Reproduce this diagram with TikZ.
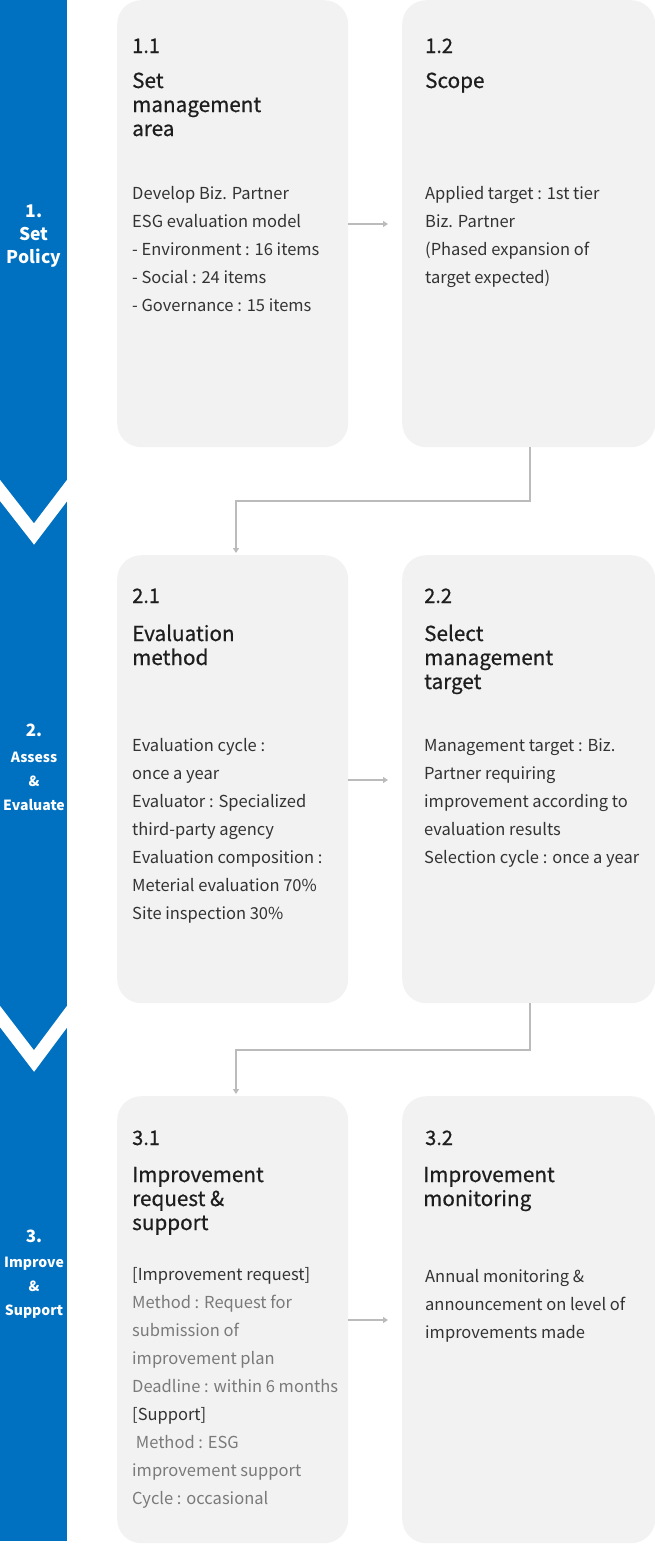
\documentclass[tikz,border=0pt]{standalone}
\usepackage{fontspec}
\setmainfont{Noto Sans CJK KR}
\newfontfamily\ttlfont[FakeBold=0.6]{Noto Sans CJK KR}
\usetikzlibrary{arrows.meta}
\definecolor{barblue}{HTML}{0070C0}
\definecolor{boxgray}{HTML}{F2F2F2}
\definecolor{linegray}{HTML}{BBBBBB}
\definecolor{txtdark}{HTML}{333333}
\definecolor{txtgray}{HTML}{7A7A7A}
\definecolor{ttldark}{HTML}{1E1E1E}
\tikzset{
  card/.style={fill=boxgray, rounded corners=24pt, draw=none, inner sep=0pt, minimum width=#1, anchor=north west},
  card/.default=231pt,
  num/.style={anchor=base west, inner sep=0pt, text=ttldark, font=\ttlfont\fontsize{20}{24}\selectfont},
  ttl/.style={anchor=base west, inner sep=0pt, text=ttldark, font=\ttlfont\fontsize{20.7}{24}\selectfont},
  body/.style={anchor=base west, inner sep=0pt, text=txtdark, font=\fontsize{16.5}{28}\selectfont},
  bodyg/.style={body, text=txtgray},
  side/.style={anchor=base, inner sep=0pt, text=white, font=\bfseries\fontsize{#1}{20}\selectfont},
  conn/.style={draw=linegray, line width=1.2pt},
  arr/.style={conn, -{Triangle[width=6pt,length=5pt]}},
}
\begin{document}
\begin{tikzpicture}[x=1pt,y=-1pt]
\useasboundingbox (0,0) rectangle (655,1545);
% side bar
\fill[barblue] (0,0) rectangle (67,1541);
\draw[white, line width=13pt, line join=miter] (-5,484) -- (34,534) -- (72,484);
\draw[white, line width=13pt, line join=miter] (-5,1010) -- (34,1061) -- (72,1010);
\node[side=17.5] (s1a) at (34,217) {1.};
\node[side=17.5] (s1b) at (34,240) {Set};
\node[side=17.5] (s1c) at (34,263) {Policy};
\node[side=17] (s2a) at (34,736) {2.};
\node[side=14] (s2b) at (34,762) {Assess};
\node[side=14] (s2c) at (34,786) {\&};
\node[side=14] (s2d) at (34,810) {Evaluate};
\node[side=17] (s3a) at (34,1242) {3.};
\node[side=14] (s3b) at (34,1267) {Improve};
\node[side=14] (s3c) at (34,1291) {\&};
\node[side=14] (s3d) at (34,1315) {Support};
% cards
\node[card=231pt, minimum height=447pt] (c11) at (117,0) {};
\node[card=253pt, minimum height=447pt] (c12) at (402,0) {};
\node[card=231pt, minimum height=448pt] (c21) at (117,555) {};
\node[card=253pt, minimum height=448pt] (c22) at (402,555) {};
\node[card=231pt, minimum height=447pt] (c31) at (117,1096) {};
\node[card=253pt, minimum height=447pt] (c32) at (402,1096) {};
% connectors
\coordinate (a1) at (388,224);
\coordinate (a2) at (388,780);
\coordinate (a3) at (388,1320);
\draw[arr] (c11.east |- a1) -- (a1);
\draw[arr] (c21.east |- a2) -- (a2);
\draw[arr] (c31.east |- a3) -- (a3);
\coordinate (k1) at (530,501);
\coordinate (k2) at (236,501);
\coordinate (k3) at (236,553);
\draw[arr] (c12.south -| k1) -- (k1) -- (k2) -- (k3);
\coordinate (m1) at (530,1050);
\coordinate (m2) at (236,1050);
\coordinate (m3) at (236,1094);
\draw[arr] (c22.south -| m1) -- (m1) -- (m2) -- (m3);
% card 1.1
\node[num] (n11) at (132,53) {1.1};
\foreach \t [count=\i from 0] in {{Set}, {management}, {area}}
  \node[ttl] (t11-\i) at (132,{88+24*\i}) {\t};
\foreach \t [count=\i from 0] in {{Develop Biz. Partner}, {ESG evaluation model}, {- Environment : 16 items}, {- Social : 24 items}, {- Governance : 15 items}}
  \node[body] (b11-\i) at (132,{199+28*\i}) {\t};
% card 1.2
\node[num] (n12) at (425,53) {1.2};
\node[ttl] (t12-0) at (425,88) {Scope};
\foreach \t [count=\i from 0] in {{Applied target : 1st tier}, {Biz. Partner}, {(Phased expansion of}, {target expected)}}
  \node[body] (b12-\i) at (425,{199+28*\i}) {\t};
% card 2.1
\node[num] (n21) at (132,603) {2.1};
\foreach \t [count=\i from 0] in {{Evaluation}, {method}}
  \node[ttl] (t21-\i) at (132,{641+24*\i}) {\t};
\foreach \t [count=\i from 0] in {{Evaluation cycle :}, {once a year}, {Evaluator : Specialized}, {third-party agency}, {Evaluation composition :}, {Meterial evaluation 70\%}, {Site inspection 30\%}}
  \node[body] (b21-\i) at (132,{751+28*\i}) {\t};
% card 2.2
\node[num] (n22) at (424,603) {2.2};
\foreach \t [count=\i from 0] in {{Select}, {management}, {target}}
  \node[ttl] (t22-\i) at (424,{641+24*\i}) {\t};
\foreach \t [count=\i from 0] in {{Management target : Biz.}, {Partner requiring}, {improvement according to}, {evaluation results}, {Selection cycle : once a year}}
  \node[body] (b22-\i) at (424,{751+28*\i}) {\t};
% card 3.1
\node[num] (n31) at (132,1145) {3.1};
\foreach \t [count=\i from 0] in {{Improvement}, {request \&}, {support}}
  \node[ttl] (t31-\i) at (132,{1182+24*\i}) {\t};
\node[body] (b31-0) at (132,1280) {[Improvement request]};
\node[bodyg] (b31-1) at (132,1308) {Method : Request for};
\node[bodyg] (b31-2) at (132,1336) {submission of};
\node[bodyg] (b31-3) at (132,1364) {improvement plan};
\node[bodyg] (b31-4) at (132,1392) {Deadline : within 6 months};
\node[body] (b31-5) at (132,1420) {[Support]};
\node[bodyg] (b31-6) at (132,1448) {\ Method : ESG};
\node[bodyg] (b31-7) at (132,1476) {improvement support};
\node[bodyg] (b31-8) at (132,1504) {Cycle : occasional};
% card 3.2
\node[num] (n32) at (425,1145) {3.2};
\foreach \t [count=\i from 0] in {{Improvement}, {monitoring}}
  \node[ttl] (t32-\i) at (423,{1182+24*\i}) {\t};
\foreach \t [count=\i from 0] in {{Annual monitoring \&}, {announcement on level of}, {improvements made}}
  \node[body] (b32-\i) at (425,{1282+28*\i}) {\t};
\end{tikzpicture}
\end{document}
